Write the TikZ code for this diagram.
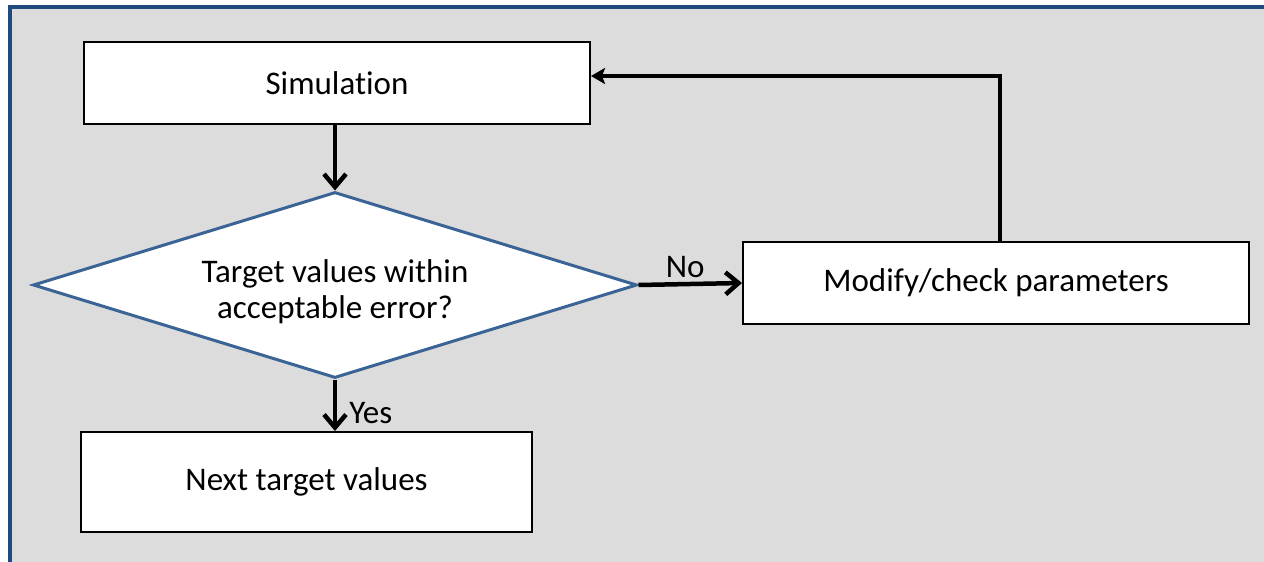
\documentclass[tikz,border=0pt]{standalone}
\usepackage{fontspec}
\setmainfont[Ligatures=NoCommon]{Carlito}
\usetikzlibrary{arrows.meta,shapes.geometric}
\definecolor{bgray}{RGB}{220,220,220}
\definecolor{frameblue}{RGB}{31,74,127}
\definecolor{diablue}{RGB}{59,100,150}
\tikzset{
  txt/.style={font=\fontsize{33}{40}\selectfont},
  procbox/.style={draw=black,line width=2pt,fill=white,minimum width=#1,minimum height=82pt,inner sep=0pt,txt},
  conn/.style={line width=4.5pt,-{Straight Barb[length=13pt,width=22pt,line width=4.5pt]}},
  loopconn/.style={line width=4.5pt,-{Stealth[length=14pt,width=16pt,inset=3pt]}},
  lbl/.style={txt,inner sep=0pt}
}
\begin{document}
\begin{tikzpicture}[x=1pt,y=-1pt]
\useasboundingbox (0,0) rectangle (1264,562);
\fill[white] (0,0) rectangle (1264,562);
\fill[bgray] (10,7) rectangle (1264,562);
\draw[frameblue,line width=4pt] (10,570) -- (10,7) -- (1275,7);
% nodes
\node[procbox=506pt] (sim) at (337,83) {Simulation};
\node[draw=diablue,line width=3pt,fill=white,diamond,aspect=3.25,minimum width=604pt,minimum height=186pt,inner sep=0pt] (dec) at (335,285) {};
\node[lbl,align=center] at (335,292) {Target values within\\[-4pt]acceptable error?};
\node[procbox=506pt] (mod) at (996,283) {Modify/check parameters};
\node[procbox=451pt,minimum height=100pt] (next) at (306.5,482) {Next target values};
% connectors
\draw[conn] (sim.south -| dec.north) -- (dec.north);
\draw[conn] (dec.south) -- (dec.south |- next.north) node[lbl,midway,right=12pt,yshift=-8pt] {Yes};
\draw[conn] (dec.east) -- (mod.west) node[lbl,midway,above=4pt,xshift=-5pt] {No};
\coordinate (turn) at (1000,76);
\draw[loopconn] (mod.north -| turn) -- (turn) -- (sim.east |- turn);
\end{tikzpicture}
\end{document}
